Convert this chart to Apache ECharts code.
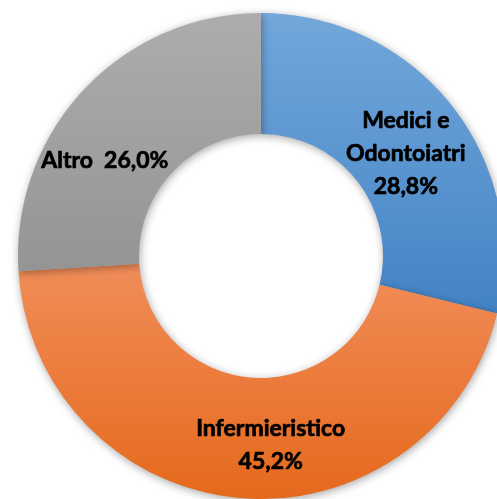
<!DOCTYPE html>
<html>
<head>
<meta charset="utf-8">
<script src="https://cdn.jsdelivr.net/npm/echarts@6/dist/echarts.min.js"></script>
<style>
  html, body { margin: 0; padding: 0; background: #fff; }
  #chart { width: 497px; height: 499px; }
</style>
</head>
<body>
<div id="chart"></div>
<script>
// dati
const categories = ['Medici e\nOdontoiatri', 'Infermieristico', 'Altro'];
const values = [28.8, 45.2, 26.0];
const labelTexts = ['Medici e\nOdontoiatri\n28,8%', 'Infermieristico\n45,2%', 'Altro  26,0%'];

// colori (alto -> basso)
const topColors = ['#73a7db', '#f18d59', '#adadad'];
const bottomColors = ['#4283c5', '#e5691c', '#949494'];
// spostamento etichette rispetto al centro della fetta
const labelShift = [[-1, 12], [26, 4], [-21, 32]];

const chart = echarts.init(document.getElementById('chart'));

const data = categories.map((name, i) => ({
  name: name,
  value: values[i],
  itemStyle: {
    color: new echarts.graphic.LinearGradient(0, 0, 0, 1, [
      { offset: 0, color: topColors[i] },
      { offset: 1, color: bottomColors[i] }
    ])
  },
  label: { formatter: labelTexts[i] }
}));

chart.setOption({
  animation: false,
  series: [{
    type: 'pie',
    center: [261, 256],
    radius: [122, 243],
    startAngle: 90,
    clockwise: true,
    data: data,
    itemStyle: {
      shadowBlur: 8,
      shadowColor: 'rgba(0,0,0,0.35)',
      shadowOffsetX: 1,
      shadowOffsetY: 2
    },
    label: {
      show: true,
      position: 'inside',
      color: '#000',
      fontFamily: 'Lato',
      fontWeight: 'bold',
      fontSize: 23,
      lineHeight: 33,
      align: 'center',
      textBorderColor: '#000',
      textBorderWidth: 0.7
    },
    labelLine: { show: false },
    emphasis: { disabled: true },
    labelLayout: function (params) {
      const s = labelShift[params.dataIndex];
      return { dx: s[0], dy: s[1] };
    }
  }]
});
</script>
</body>
</html>
